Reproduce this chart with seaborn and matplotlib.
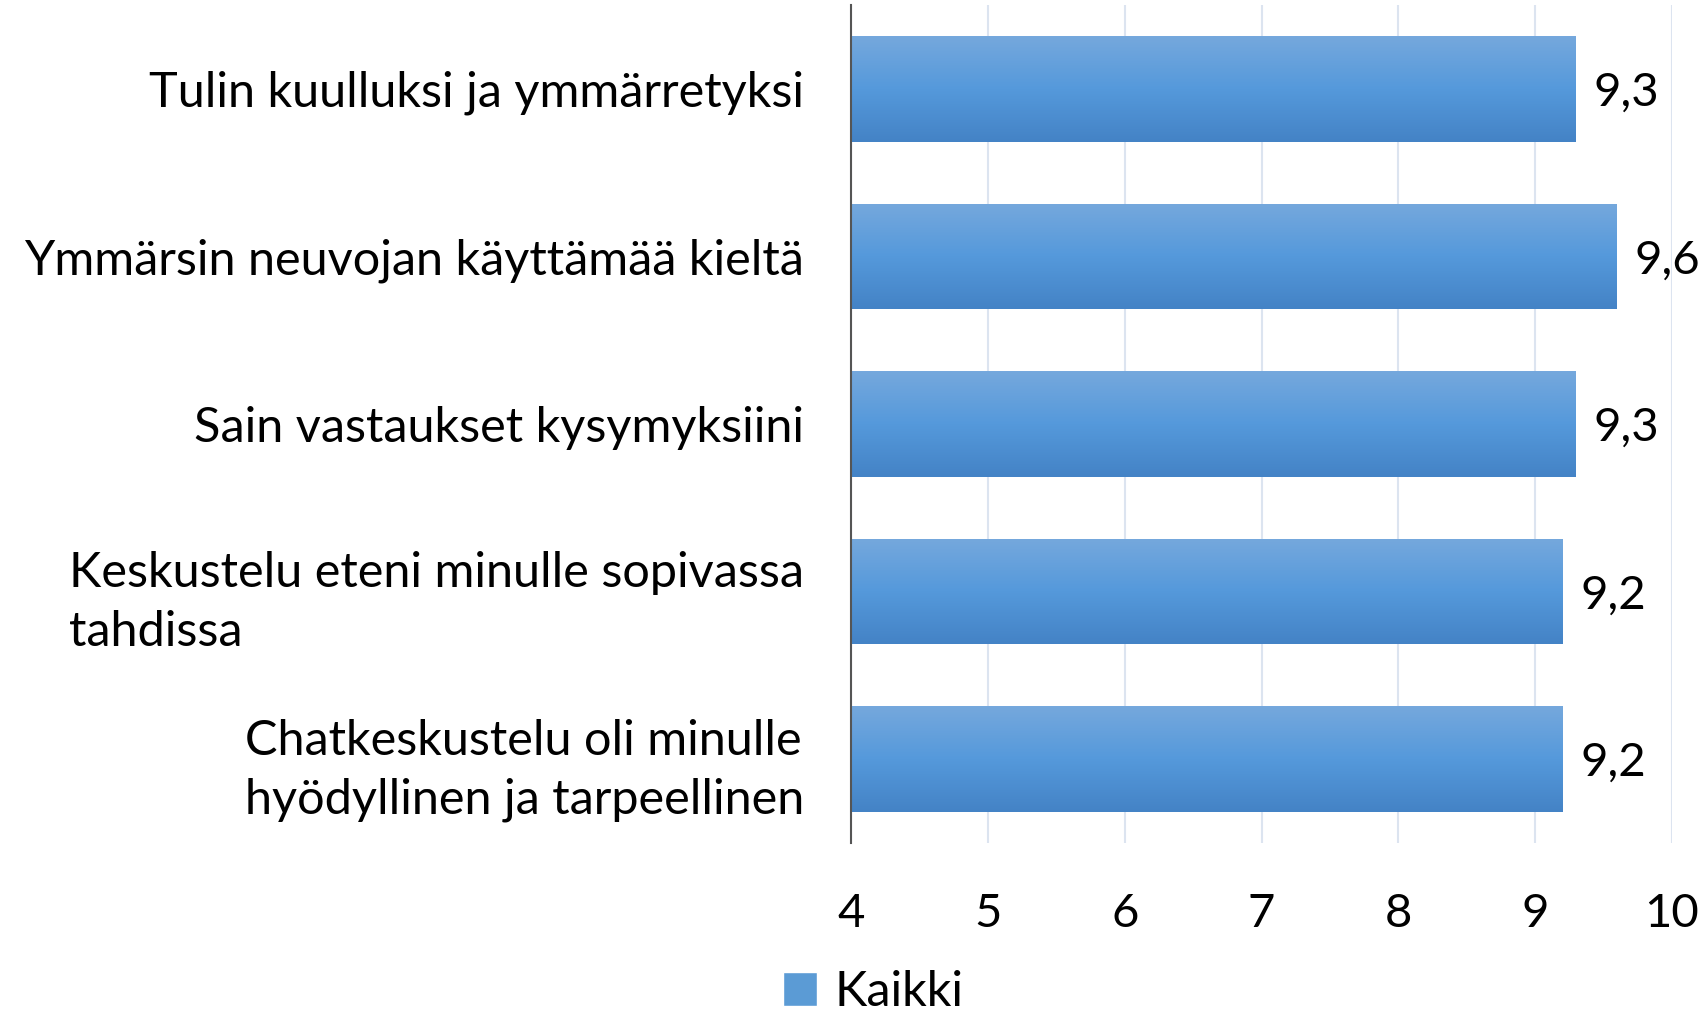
import numpy as np
import pandas as pd
import matplotlib
matplotlib.use("Agg")
import matplotlib.pyplot as plt
import seaborn as sns
from matplotlib.colors import LinearSegmentedColormap
from matplotlib.patches import Patch

# Données
categories = ["Tulin kuulluksi ja ymmärretyksi",
              "Ymmärsin neuvojan käyttämää kieltä",
              "Sain vastaukset kysymyksiini",
              "Keskustelu eteni minulle sopivassa\ntahdissa",
              "Chatkeskustelu oli minulle\nhyödyllinen ja tarpeellinen"]
values = [9.3, 9.6, 9.3, 9.2, 9.2]
series_name = "Kaikki"
x_ticks = [4, 5, 6, 7, 8, 9, 10]

df = pd.DataFrame({"kysymys": categories, "arvo": values})

sns.set_style("white")
plt.rcParams["font.family"] = ["Lato", "DejaVu Sans"]
plt.rcParams["text.color"] = "black"

fig = plt.figure(figsize=(17.06, 10.14), dpi=100)
ax = fig.add_axes([0.499, 0.169, 0.481, 0.826])

sns.barplot(data=df, y="kysymys", x="arvo", orient="h", width=0.63,
            color="#5599db", ax=ax)

# dégradé vertical sur chaque barre
grad = LinearSegmentedColormap.from_list("g", ["#75a8dd", "#5599db", "#4483c6"])
ax.set_xlim(4, 10)
ax.set_ylim(len(categories) - 0.5, -0.5)
for p in ax.patches:
    x0, y0 = p.get_x(), p.get_y()
    w, h = p.get_width(), p.get_height()
    p.set_facecolor("none")
    p.set_edgecolor("none")
    img = ax.imshow(np.linspace(0, 1, 100).reshape(-1, 1), cmap=grad,
                    extent=[4, x0 + w, y0 + h, y0], aspect="auto", zorder=2)
    img.set_clip_path(p)
    p.set_zorder(2)
    ax.text(x0 + w + 0.13, y0 + h / 2, f"{w:.1f}".replace(".", ","),
            va="center_baseline", ha="left", fontsize=34, color="black")
ax.set_xlim(4, 10)
ax.set_ylim(len(categories) - 0.5, -0.5)

ax.set_xticks(x_ticks)
ax.set_xticklabels([str(t) for t in x_ticks], fontsize=34, color="black")
ax.tick_params(axis="x", length=0, pad=36)
ax.tick_params(axis="y", length=0, pad=34)
for lab in ax.get_yticklabels():
    lab.set_fontsize(35)
    lab.set_color("black")
    lab.set_multialignment("left")
    lab.set_linespacing(1.4)

ax.grid(axis="x", color="#dce4f0", linewidth=1.5, zorder=0)
ax.set_axisbelow(True)
for s in ["top", "right", "bottom"]:
    ax.spines[s].set_visible(False)
ax.spines["left"].set_color("#555555")
ax.spines["left"].set_linewidth(1.5)
ax.spines["left"].set_zorder(3)
ax.set_xlabel("")
ax.set_ylabel("")

fig.legend(handles=[Patch(facecolor="#5b9bd5", label=series_name)],
           loc="center", bbox_to_anchor=(0.512, 0.022), frameon=False,
           fontsize=35, handlelength=0.7, handleheight=0.7, handletextpad=0.35)

fig.savefig("out.png", dpi=100)
